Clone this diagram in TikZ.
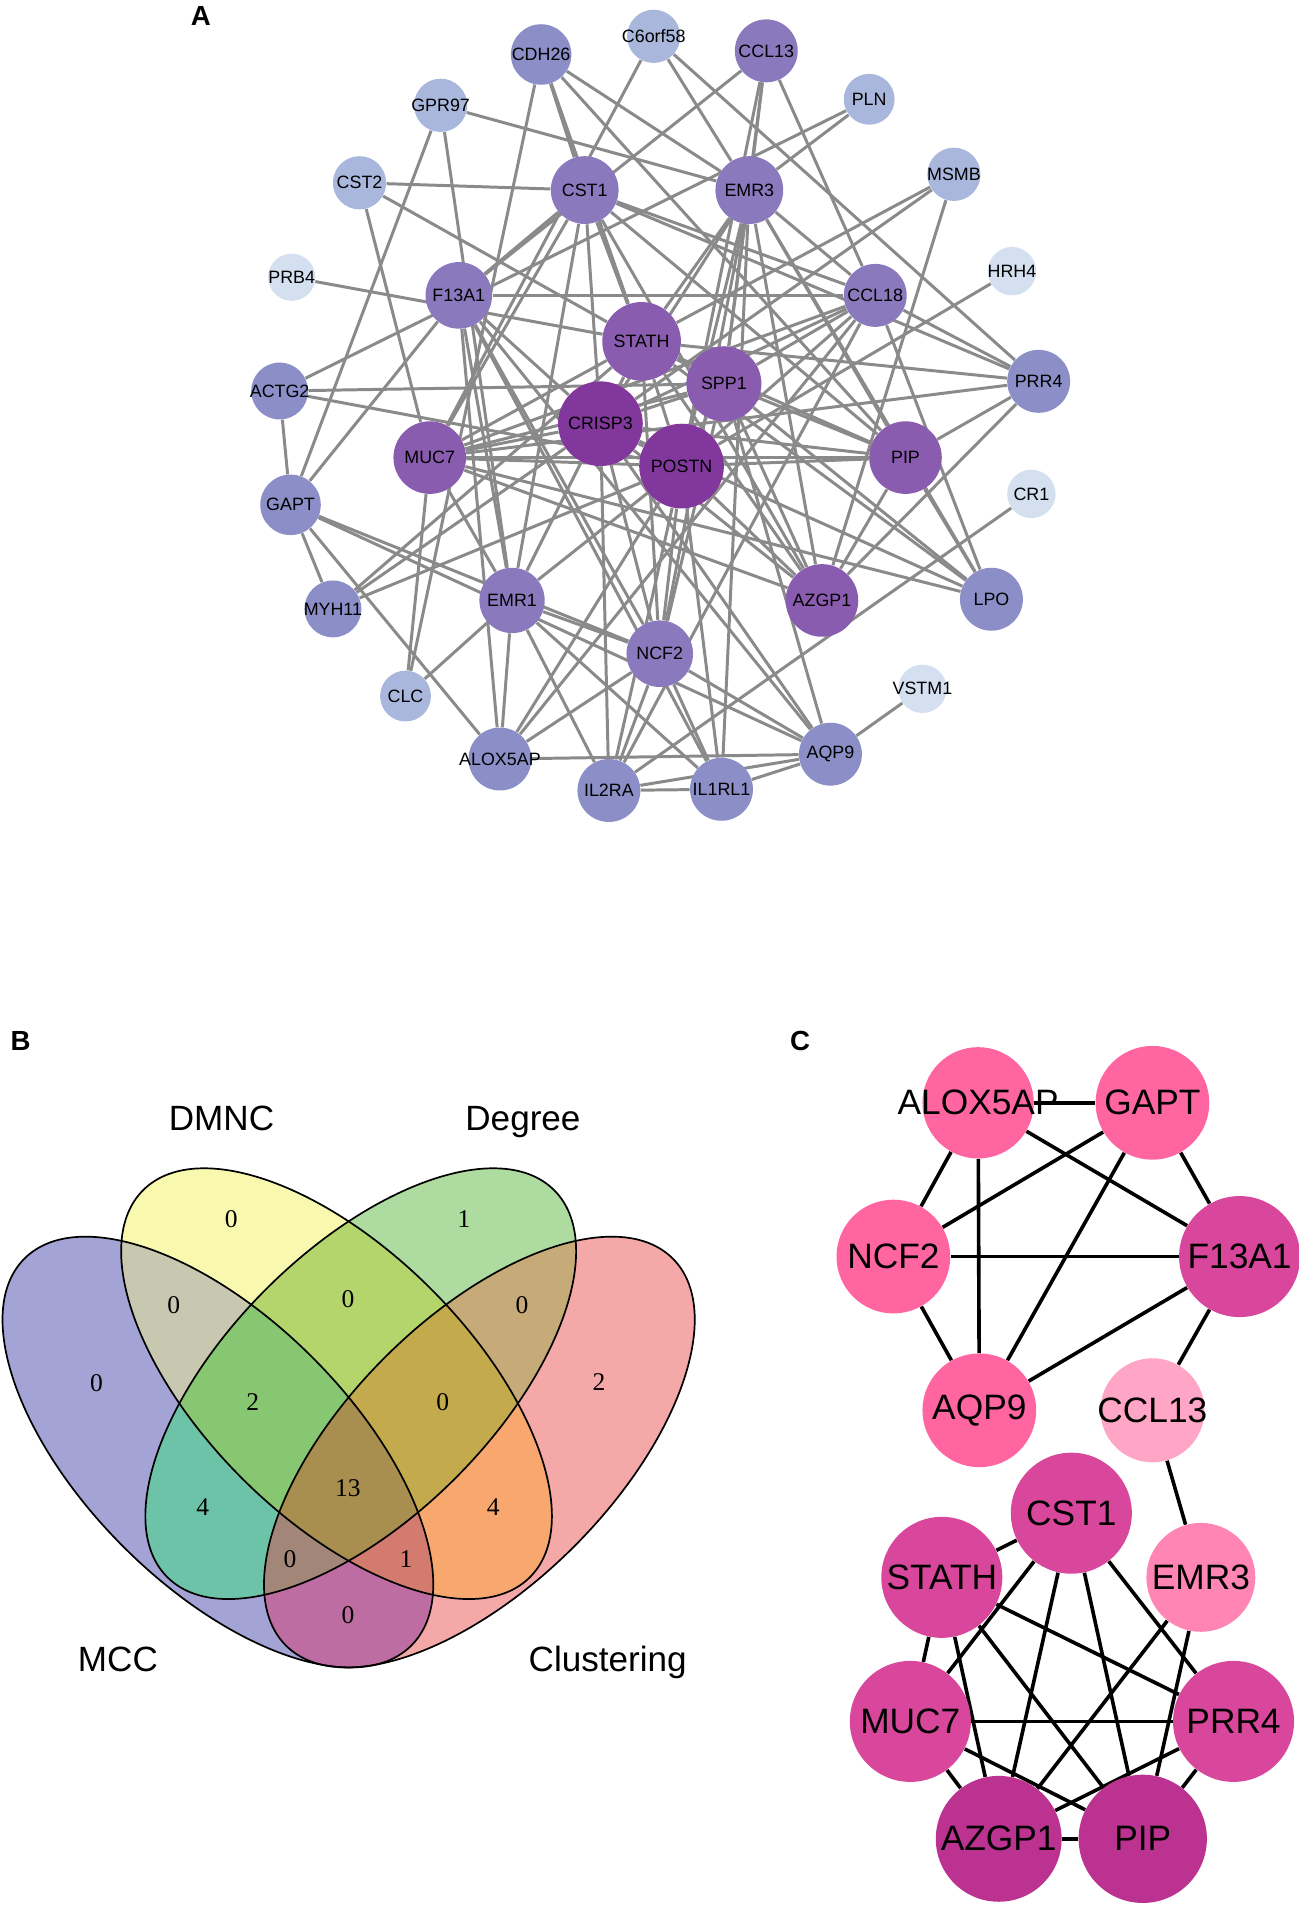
\documentclass[tikz,border=0pt]{standalone}
\usepackage{fontspec}
\setmainfont{Liberation Sans}
\newfontfamily\serifnum{Liberation Serif}
\pgfdeclarelayer{edges}
\pgfsetlayers{edges,main}
% node colours of the network
\definecolor{lvlone}{HTML}{D4DFF0}
\definecolor{lvltwo}{HTML}{AAB7DD}
\definecolor{lvlthree}{HTML}{8B8EC7}
\definecolor{lvlfour}{HTML}{8B79BE}
\definecolor{lvlfive}{HTML}{8A5CAF}
\definecolor{lvlsix}{HTML}{82379C}
% venn colours
\definecolor{vA}{HTML}{A3A3D6}
\definecolor{vB}{HTML}{F8F8AF}
\definecolor{vC}{HTML}{AEDBA0}
\definecolor{vD}{HTML}{F5A8A8}
\definecolor{vAB}{HTML}{C8C8B1}
\definecolor{vAC}{HTML}{6DC3A8}
\definecolor{vAD}{HTML}{BE6DA2}
\definecolor{vBC}{HTML}{B3D56C}
\definecolor{vBD}{HTML}{F8A86F}
\definecolor{vCD}{HTML}{C6AB78}
\definecolor{vABC}{HTML}{88C772}
\definecolor{vABD}{HTML}{D47B6F}
\definecolor{vACD}{HTML}{A28779}
\definecolor{vBCD}{HTML}{C3AA4C}
\definecolor{vABCD}{HTML}{A88E4F}
% hub colours
\definecolor{hubpink}{HTML}{FF66A1}
\definecolor{hubdeep}{HTML}{D8479B}
\definecolor{hubdark}{HTML}{BC3290}
\definecolor{hublight}{HTML}{FFA5C5}
\definecolor{hubmid}{HTML}{FF86B4}
\tikzset{
    ppi/.style 2 args={circle, inner sep=0pt, minimum size=#1*0.04cm, fill=#2},
    ppilab/.style={font=\fontsize{8.4}{10}\selectfont},
    ppiedge/.style={draw=black!46, line width=1.4pt},
    hub/.style 2 args={circle, inner sep=0pt, minimum size=#1*0.04cm, fill=#2},
    hublab/.style={font=\fontsize{16.6}{18}\selectfont},
    hubedge/.style={draw=black, line width=1.7pt},
    panel/.style={font=\fontsize{13}{15}\selectfont\bfseries},
    vnum/.style={font=\serifnum\fontsize{12}{14}\selectfont},
    vcat/.style={font=\fontsize{16.5}{18}\selectfont, anchor=base},
    vline/.style={draw=black, line width=0.8pt},
    rotA/.style={rotate around={-45:(180,1199.5)}},
    rotB/.style={rotate around={-45:(278,1143)}},
    rotC/.style={rotate around={45:(298,1143)}},
    rotD/.style={rotate around={45:(396,1199.5)}},
}
\def\setA{(180,1199.5) ellipse [x radius=226, y radius=110.5]}
\def\setB{(278,1143) ellipse [x radius=226, y radius=110.5]}
\def\setC{(298,1143) ellipse [x radius=226, y radius=110.5]}
\def\setD{(396,1199.5) ellipse [x radius=226, y radius=110.5]}

\begin{document}
\begin{tikzpicture}[x=0.02cm, y=-0.02cm]
        \useasboundingbox (0,0) rectangle (1073,1574.5);
        %panel labels
        \node[panel] (labA) at (166,13) {A};
        \node[panel] (labB) at (17,860) {B};
        \node[panel] (labC) at (661,860) {C};

        %network nodes, outer ring
        \node[ppi={25}{lvlthree}, label={[ppilab]center:CDH26}] (cdh26) at (447,45) {};
        \node[ppi={22}{lvltwo}, label={[ppilab]center:C6orf58}] (c6orf58) at (540,30) {};
        \node[ppi={26}{lvlfour}, label={[ppilab]center:CCL13}] (ccl13) at (633,42) {};
        \node[ppi={22}{lvltwo}, label={[ppilab]center:GPR97}] (gpr97) at (364,87) {};
        \node[ppi={21}{lvltwo}, label={[ppilab]center:PLN}] (pln) at (718,82) {};
        \node[ppi={22}{lvltwo}, label={[ppilab]center:CST2}] (cst2) at (297,151) {};
        \node[ppi={22}{lvltwo}, label={[ppilab]center:MSMB}] (msmb) at (788,144) {};
        \node[ppi={19.5}{lvlone}, label={[ppilab]center:PRB4}] (prb4) at (241,229) {};
        \node[ppi={20}{lvlone}, label={[ppilab]center:HRH4}] (hrh4) at (836,224) {};
        \node[ppi={26}{lvlthree}, label={[ppilab]center:PRR4}] (prr4) at (858,315) {};
        \node[ppi={23.5}{lvlthree}, label={[ppilab]center:ACTG2}] (actg2) at (231,323) {};
        \node[ppi={25}{lvlthree}, label={[ppilab]center:GAPT}] (gapt) at (240,417) {};
        \node[ppi={20}{lvlone}, label={[ppilab]center:CR1}] (cr1) at (852,408) {};
        \node[ppi={23.5}{lvlthree}, label={[ppilab]center:MYH11}] (myh11) at (275,503) {};
        \node[ppi={26}{lvlthree}, label={[ppilab]center:LPO}] (lpo) at (819,495) {};
        \node[ppi={21}{lvltwo}, label={[ppilab]center:CLC}] (clc) at (335,575) {};
        \node[ppi={20}{lvlone}, label={[ppilab]center:VSTM1}] (vstm1) at (762,569) {};
        \node[ppi={26}{lvlthree}, label={[ppilab]center:ALOX5AP}] (alox5ap) at (413,627) {};
        \node[ppi={26}{lvlthree}, label={[ppilab]center:AQP9}] (aqp9) at (686,623) {};
        \node[ppi={26}{lvlthree}, label={[ppilab]center:IL2RA}] (il2ra) at (503,653) {};
        \node[ppi={26}{lvlthree}, label={[ppilab]center:IL1RL1}] (il1rl1) at (596,652) {};
        %network nodes, inner ring
        \node[ppi={28}{lvlfour}, label={[ppilab]center:CST1}] (cst1) at (483,157) {};
        \node[ppi={28}{lvlfour}, label={[ppilab]center:EMR3}] (emr3) at (619,157) {};
        \node[ppi={27.5}{lvlfour}, label={[ppilab]center:F13A1}] (f13a1) at (379,244) {};
        \node[ppi={26}{lvlfour}, label={[ppilab]center:CCL18}] (ccl18) at (723,244) {};
        \node[ppi={27}{lvlfour}, label={[ppilab]center:EMR1}] (emr1) at (423,496) {};
        \node[ppi={27.5}{lvlfour}, label={[ppilab]center:NCF2}] (ncf2) at (545,540) {};
        \node[ppi={32.5}{lvlfive}, label={[ppilab]center:STATH}] (stath) at (530,282) {};
        \node[ppi={31}{lvlfive}, label={[ppilab]center:SPP1}] (spp1) at (598,317) {};
        \node[ppi={30}{lvlfive}, label={[ppilab]center:MUC7}] (muc7) at (355,378) {};
        \node[ppi={30}{lvlfive}, label={[ppilab]center:PIP}] (pip) at (748,378) {};
        \node[ppi={30}{lvlfive}, label={[ppilab]center:AZGP1}] (azgp1) at (679,496) {};
        \node[ppi={35}{lvlsix}, label={[ppilab]center:CRISP3}] (crisp3) at (496,350) {};
        \node[ppi={35}{lvlsix}, label={[ppilab]center:POSTN}] (postn) at (563,385) {};

        %network edges, under the nodes
        \begin{pgfonlayer}{edges}
        \foreach \a/\b in {prb4/stath, hrh4/postn, cr1/il2ra, vstm1/aqp9,
            c6orf58/muc7, c6orf58/emr3, c6orf58/prr4,
            gpr97/emr3, gpr97/gapt, gpr97/emr1,
            cst2/cst1, cst2/stath, cst2/muc7,
            pln/emr3, pln/actg2,
            msmb/stath, msmb/crisp3, msmb/azgp1,
            clc/cdh26, clc/emr1,
            cdh26/cst1, cdh26/stath, cdh26/emr3, cdh26/pip,
            ccl13/f13a1, ccl13/emr3, ccl13/spp1, ccl13/postn, ccl13/ccl18,
            actg2/spp1, actg2/postn, actg2/gapt,
            cst1/f13a1, cst1/muc7, cst1/stath, cst1/crisp3, cst1/azgp1, cst1/pip, cst1/prr4, cst1/ccl18, cst1/emr1,
            emr3/stath, emr3/spp1, emr3/postn, emr3/crisp3, emr3/ncf2, emr3/il1rl1, emr3/azgp1, emr3/pip, emr3/ccl18, emr3/lpo,
            f13a1/ccl18, f13a1/gapt, f13a1/alox5ap, f13a1/emr1, f13a1/ncf2, f13a1/aqp9, f13a1/crisp3, f13a1/il1rl1,
            ccl18/prr4, ccl18/spp1, ccl18/crisp3, ccl18/postn, ccl18/muc7, ccl18/alox5ap, ccl18/il2ra, ccl18/lpo,
            stath/muc7, stath/prr4, stath/pip, stath/azgp1, stath/spp1, stath/crisp3, stath/postn, stath/lpo, stath/ncf2, stath/myh11,
            spp1/crisp3, spp1/postn, spp1/pip, spp1/azgp1, spp1/ncf2, spp1/lpo, spp1/muc7, spp1/aqp9,
            prr4/muc7, prr4/pip, prr4/azgp1,
            crisp3/muc7, crisp3/postn, crisp3/pip, crisp3/azgp1, crisp3/emr1, crisp3/ncf2, crisp3/il2ra, crisp3/aqp9, crisp3/lpo, crisp3/myh11,
            muc7/pip, muc7/postn, muc7/lpo, muc7/azgp1, muc7/clc, muc7/emr1,
            postn/pip, postn/azgp1, postn/ncf2, postn/il1rl1, postn/il2ra, postn/alox5ap, postn/myh11, postn/emr1,
            pip/lpo, pip/azgp1,
            gapt/myh11, gapt/alox5ap, gapt/ncf2, gapt/aqp9,
            emr1/ncf2, emr1/alox5ap, emr1/il2ra, emr1/il1rl1,
            ncf2/alox5ap, ncf2/aqp9, ncf2/il2ra, ncf2/il1rl1,
            alox5ap/aqp9, il2ra/il1rl1, il2ra/aqp9, il1rl1/aqp9}
            \draw[ppiedge] (\a) -- (\b);
        \end{pgfonlayer}

        %venn regions, painted from single sets up to all four
        \fill[vA, rotA] \setA;
        \fill[vB, rotB] \setB;
        \fill[vC, rotC] \setC;
        \fill[vD, rotD] \setD;
        \begin{scope} \clip[rotA] \setA; \fill[vAB, rotB] \setB; \end{scope}
        \begin{scope} \clip[rotA] \setA; \fill[vAC, rotC] \setC; \end{scope}
        \begin{scope} \clip[rotA] \setA; \fill[vAD, rotD] \setD; \end{scope}
        \begin{scope} \clip[rotB] \setB; \fill[vBC, rotC] \setC; \end{scope}
        \begin{scope} \clip[rotB] \setB; \fill[vBD, rotD] \setD; \end{scope}
        \begin{scope} \clip[rotC] \setC; \fill[vCD, rotD] \setD; \end{scope}
        \begin{scope} \clip[rotA] \setA; \clip[rotB] \setB; \fill[vABC, rotC] \setC; \end{scope}
        \begin{scope} \clip[rotA] \setA; \clip[rotB] \setB; \fill[vABD, rotD] \setD; \end{scope}
        \begin{scope} \clip[rotA] \setA; \clip[rotC] \setC; \fill[vACD, rotD] \setD; \end{scope}
        \begin{scope} \clip[rotB] \setB; \clip[rotC] \setC; \fill[vBCD, rotD] \setD; \end{scope}
        \begin{scope} \clip[rotA] \setA; \clip[rotB] \setB; \clip[rotC] \setC; \fill[vABCD, rotD] \setD; \end{scope}
        %venn outlines
        \draw[vline, rotA] \setA;
        \draw[vline, rotB] \setB;
        \draw[vline, rotC] \setC;
        \draw[vline, rotD] \setD;
        %venn counts
        \node[vnum] (nA) at (79.7,1142.3) {0};
        \node[vnum] (nB) at (191,1007) {0};
        \node[vnum] (nC) at (383.4,1007) {1};
        \node[vnum] (nD) at (494.8,1142) {2};
        \node[vnum] (nAB) at (143.5,1078.4) {0};
        \node[vnum] (nBC) at (287.4,1073) {0};
        \node[vnum] (nCD) at (431.3,1078.4) {0};
        \node[vnum] (nABC) at (208.8,1158.5) {2};
        \node[vnum] (nBCD) at (365.7,1158.5) {0};
        \node[vnum] (nABCD) at (287.4,1229.5) {13};
        \node[vnum] (nAC) at (167.5,1245.2) {4};
        \node[vnum] (nBD) at (407.4,1245.2) {4};
        \node[vnum] (nACD) at (239.5,1287.6) {0};
        \node[vnum] (nABD) at (335.4,1287.6) {1};
        \node[vnum] (nAD) at (287.4,1334.3) {0};
        %venn set names
        \node[vcat] (catB) at (183,934) {DMNC};
        \node[vcat] (catC) at (432,934) {Degree};
        \node[vcat] (catA) at (97.4,1381) {MCC};
        \node[vcat] (catD) at (502,1381) {Clustering};

        %hub gene network
        \node[hub={46}{hubpink}, label={[hublab]center:ALOX5AP}] (alox5apC) at (808,911) {};
        \node[hub={47}{hubpink}, label={[hublab]center:GAPT}] (gaptC) at (952,911) {};
        \node[hub={47}{hubpink}, label={[hublab]center:NCF2}] (ncf2C) at (738,1038) {};
        \node[hub={50}{hubdeep}, label={[hublab]center:F13A1}] (f13a1C) at (1024,1038) {};
        \node[hub={47}{hubpink}, label={[hublab]center:AQP9}] (aqp9C) at (809,1165) {};
        \node[hub={43}{hublight}, label={[hublab]center:CCL13}] (ccl13C) at (952,1165) {};
        \node[hub={50}{hubdeep}, label={[hublab]center:CST1}] (cst1C) at (885,1250) {};
        \node[hub={50}{hubdeep}, label={[hublab]center:STATH}] (stathC) at (778,1303) {};
        \node[hub={45}{hubmid}, label={[hublab]center:EMR3}] (emr3C) at (992,1303) {};
        \node[hub={50}{hubdeep}, label={[hublab]center:MUC7}] (muc7C) at (752,1422) {};
        \node[hub={50}{hubdeep}, label={[hublab]center:PRR4}] (prr4C) at (1019,1422) {};
        \node[hub={52}{hubdark}, label={[hublab]center:AZGP1}] (azgp1C) at (825,1519) {};
        \node[hub={53}{hubdark}, label={[hublab]center:PIP}] (pipC) at (944,1519) {};
        \begin{pgfonlayer}{edges}
        \foreach \a/\b in {alox5apC/gaptC, alox5apC/f13a1C, alox5apC/ncf2C, alox5apC/aqp9C,
            gaptC/ncf2C, gaptC/aqp9C, gaptC/f13a1C, ncf2C/f13a1C, ncf2C/aqp9C,
            f13a1C/aqp9C, f13a1C/ccl13C, ccl13C/emr3C,
            cst1C/stathC, cst1C/muc7C, cst1C/azgp1C, cst1C/pipC, cst1C/prr4C,
            stathC/muc7C, stathC/azgp1C, stathC/pipC, stathC/prr4C,
            muc7C/prr4C, muc7C/azgp1C, muc7C/pipC, emr3C/azgp1C, emr3C/pipC,
            prr4C/azgp1C, prr4C/pipC, azgp1C/pipC}
            \draw[hubedge] (\a) -- (\b);
        \end{pgfonlayer}
    \end{tikzpicture}
\end{document}
